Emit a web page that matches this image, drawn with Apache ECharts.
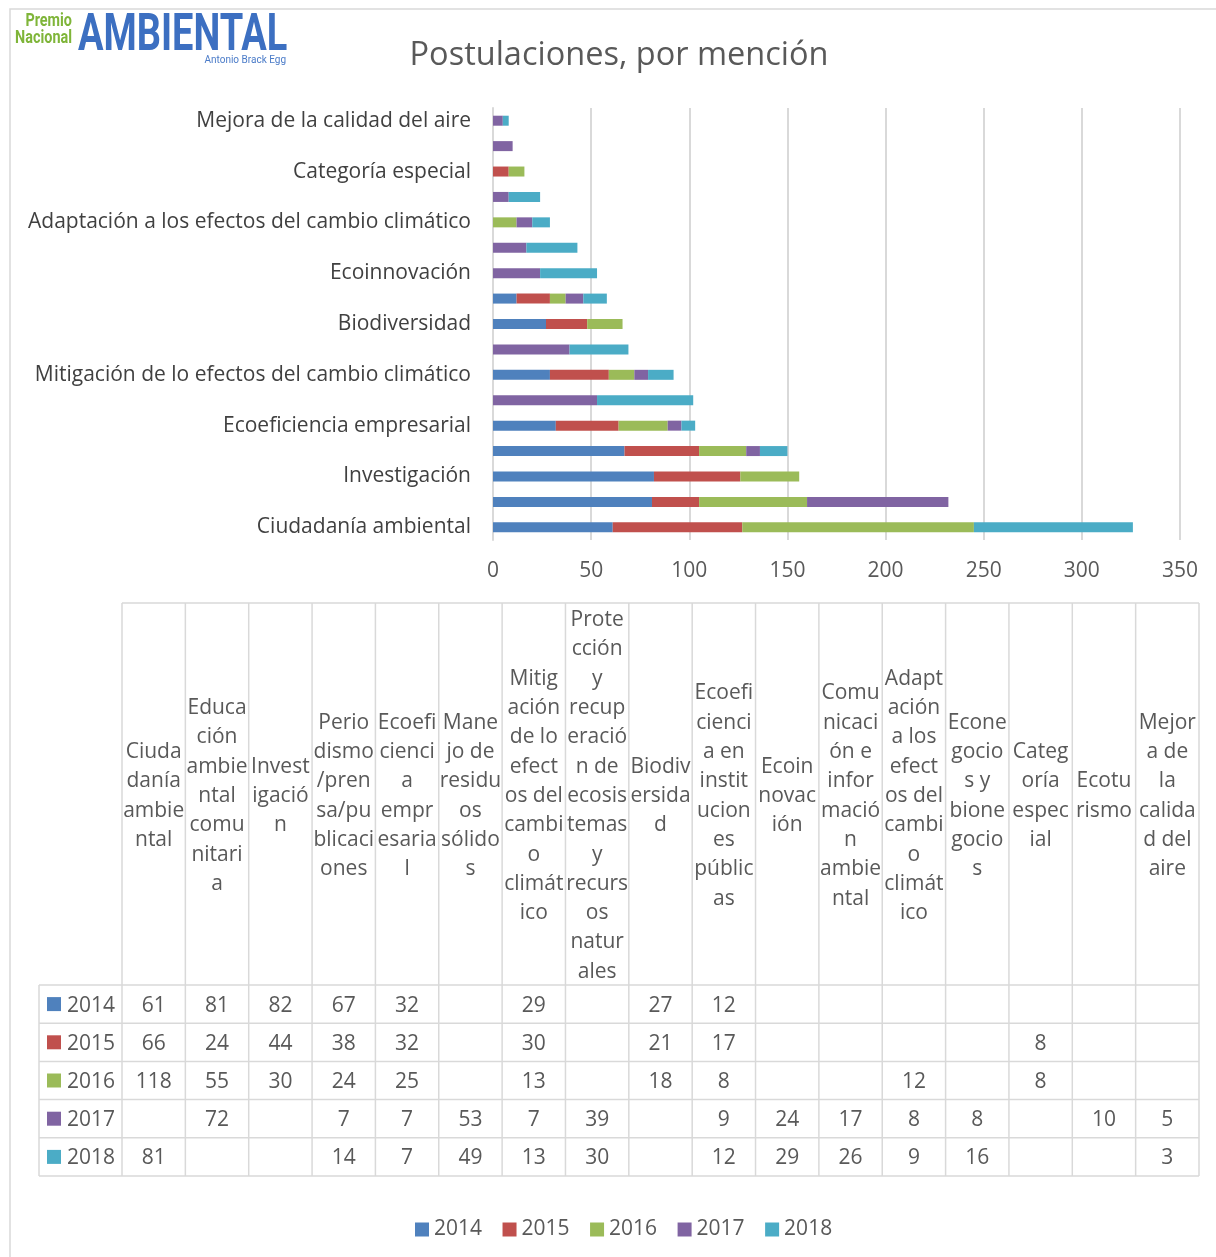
<!DOCTYPE html>
<html>
<head>
<meta charset="utf-8">
<title>Postulaciones, por mención</title>
<script src="https://cdn.jsdelivr.net/npm/echarts@6/dist/echarts.min.js"></script>
<style>
  html, body { margin: 0; padding: 0; background: #fff; }
  #chart { width: 1216px; height: 1257px; }
</style>
</head>
<body>
<div id="chart"></div>
<script>
  // categories, bottom bar first (same order as the table columns)
  const categories = [
    'Ciudadanía ambiental',
    'Educación ambiental comunitaria',
    'Investigación',
    'Periodismo/prensa/publicaciones',
    'Ecoeficiencia empresarial',
    'Manejo de residuos sólidos',
    'Mitigación de lo efectos del cambio climático',
    'Protección y recuperación de ecosistemas y recursos naturales',
    'Biodiversidad',
    'Ecoeficiencia en instituciones públicas',
    'Ecoinnovación',
    'Comunicación e información ambiental',
    'Adaptación a los efectos del cambio climático',
    'Econegocios y bionegocios',
    'Categoría especial',
    'Ecoturismo',
    'Mejora de la calidad del aire'
  ]

  // table header labels, wrapped the way the original table wraps them
  const headerLabels = [
    'Ciuda\ndanía\nambie\nntal',
    'Educa\nción\nambie\nntal\ncomu\nnitari\na',
    'Invest\nigació\nn',
    'Perio\ndismo\n/pren\nsa/pu\nblicaci\nones',
    'Ecoefi\ncienci\na\nempr\nesaria\nl',
    'Mane\njo de\nresidu\nos\nsólido\ns',
    'Mitig\nación\nde lo\nefect\nos del\ncambi\no\nclimát\nico',
    'Prote\ncción\ny\nrecup\neració\nn de\necosis\ntemas\ny\nrecurs\nos\nnatur\nales',
    'Biodiv\nersida\nd',
    'Ecoefi\ncienci\na en\ninstit\nucion\nes\npúblic\nas',
    'Ecoin\nnovac\nión',
    'Comu\nnicaci\nón e\ninfor\nmació\nn\nambie\nntal',
    'Adapt\nación\na los\nefect\nos del\ncambi\no\nclimát\nico',
    'Econe\ngocio\ns y\nbione\ngocio\ns',
    'Categ\noría\nespec\nial',
    'Ecotu\nrismo',
    'Mejor\na de\nla\ncalida\nd del\naire'
  ]

  const years = ['2014', '2015', '2016', '2017', '2018']

  const values2014 = [61, 81, 82, 67, 32, null, 29, null, 27, 12, null, null, null, null, null, null, null]
  const values2015 = [66, 24, 44, 38, 32, null, 30, null, 21, 17, null, null, null, null, 8, null, null]
  const values2016 = [118, 55, 30, 24, 25, null, 13, null, 18, 8, null, null, 12, null, 8, null, null]
  const values2017 = [null, 72, null, 7, 7, 53, 7, 39, null, 9, 24, 17, 8, 8, null, 10, 5]
  const values2018 = [81, null, null, 14, 7, 49, 13, 30, null, 12, 29, 26, 9, 16, null, null, 3]

  const seriesValues = [values2014, values2015, values2016, values2017, values2018]

  const colors = ['#4f81bd', '#c0504d', '#9bbb59', '#8064a2', '#4bacc6']
  const FONT = '"Open Sans", "Noto Sans", sans-serif'
  const GRID_COLOR = '#d9d9d9'
  const TEXT_COLOR = '#595959'

  const chart = echarts.init(document.getElementById('chart'))

  // ---- data table under the chart ----
  const table = { keyLeft: 39, left: 122, right: 1199, headTop: 603, bodyTop: 985, bottom: 1176 }
  const colW = (table.right - table.left) / categories.length
  const rowH = (table.bottom - table.bodyTop) / years.length

  const line = (x1, y1, x2, y2) => ({
    type: 'line',
    silent: true,
    shape: { x1, y1, x2, y2 },
    style: { stroke: GRID_COLOR, lineWidth: 1.5 }
  })

  const text = (x, y, str, opts = {}) => ({
    type: 'text',
    silent: true,
    x,
    y,
    style: Object.assign({
      text: str,
      fill: TEXT_COLOR,
      fontSize: 21,
      fontFamily: FONT,
      textAlign: 'center',
      textVerticalAlign: 'middle'
    }, opts)
  })

  const tableEls = []
  tableEls.push(line(table.left, table.headTop, table.right, table.headTop))
  for (let r = 0; r <= years.length; r++) {
    const y = table.bodyTop + r * rowH
    tableEls.push(line(table.keyLeft, y, table.right, y))
  }
  tableEls.push(line(table.keyLeft, table.bodyTop, table.keyLeft, table.bottom))
  for (let c = 0; c <= categories.length; c++) {
    const x = table.left + c * colW
    tableEls.push(line(x, table.headTop, x, table.bottom))
  }
  headerLabels.forEach((lbl, c) => {
    tableEls.push(text(table.left + (c + 0.5) * colW, (table.headTop + table.bodyTop) / 2 + 2, lbl, { lineHeight: 29.3 }))
  })
  years.forEach((yr, r) => {
    const cy = table.bodyTop + (r + 0.5) * rowH
    tableEls.push({
      type: 'rect',
      silent: true,
      shape: { x: 47, y: cy - 7, width: 14, height: 14 },
      style: { fill: colors[r] }
    })
    tableEls.push(text(67, cy + 1.5, yr, { textAlign: 'left' }))
    seriesValues[r].forEach((v, c) => {
      if (v == null) return
      tableEls.push(text(table.left + (c + 0.5) * colW, cy + 1.5, String(v)))
    })
  })

  // ---- logo ----
  const logoEls = [
    text(72, 21, 'Premio', { fill: '#7fb539', fontSize: 18, fontWeight: 'bold', fontFamily: 'Roboto', textAlign: 'right' }),
    text(72, 38, 'Nacional', { fill: '#7fb539', fontSize: 18, fontWeight: 'bold', fontFamily: 'Roboto', textAlign: 'right' }),
    text(78, 37, 'AMBIENTAL', { fill: '#3c6fc1', fontSize: 52, fontWeight: 'bold', fontFamily: 'Roboto', textAlign: 'left' }),
    text(286, 60, 'Antonio Brack Egg', { fill: '#4a7bc8', fontSize: 10, fontFamily: 'Roboto', textAlign: 'right' })
  ]
  logoEls[0].scaleX = 0.8
  logoEls[1].scaleX = 0.8
  logoEls[2].scaleX = 0.73

  const option = {
    backgroundColor: '#fff',
    animation: false,
    color: colors,
    title: {
      text: 'Postulaciones, por mención',
      left: 614,
      textAlign: 'center',
      top: 34,
      textStyle: { color: TEXT_COLOR, fontSize: 32.5, fontWeight: 'normal', fontFamily: FONT }
    },
    grid: {
      left: 493,
      right: 36,
      top: 108,
      height: 432
    },
    legend: {
      data: years,
      left: 410,
      top: 1214,
      icon: 'rect',
      itemWidth: 14,
      itemHeight: 14,
      itemGap: 20.5,
      textStyle: { color: TEXT_COLOR, fontSize: 21, fontFamily: FONT }
    },
    xAxis: {
      type: 'value',
      min: 0,
      max: 350,
      interval: 50,
      axisLine: { show: false },
      axisTick: { show: false },
      axisLabel: { color: TEXT_COLOR, fontSize: 21, fontFamily: FONT, margin: 21 },
      splitLine: { lineStyle: { color: GRID_COLOR, width: 2 } }
    },
    yAxis: {
      type: 'category',
      data: categories,
      axisLine: { show: true, lineStyle: { color: GRID_COLOR, width: 2 } },
      axisTick: { show: false },
      axisLabel: { interval: 1, color: '#404040', fontSize: 21, fontFamily: FONT, margin: 22 }
    },
    series: years.map((yr, i) => ({
      name: yr,
      type: 'bar',
      stack: 'total',
      barWidth: 10,
      itemStyle: { color: colors[i] },
      data: seriesValues[i]
    })),
    graphic: [
      {
        type: 'rect',
        silent: true,
        shape: { x: 10, y: 9, width: 1220, height: 1260 },
        style: { fill: 'none', stroke: GRID_COLOR, lineWidth: 1.5 }
      },
      ...logoEls,
      ...tableEls
    ]
  }

  chart.setOption(option)
  window.addEventListener('resize', () => chart.resize())
</script>
</body>
</html>
